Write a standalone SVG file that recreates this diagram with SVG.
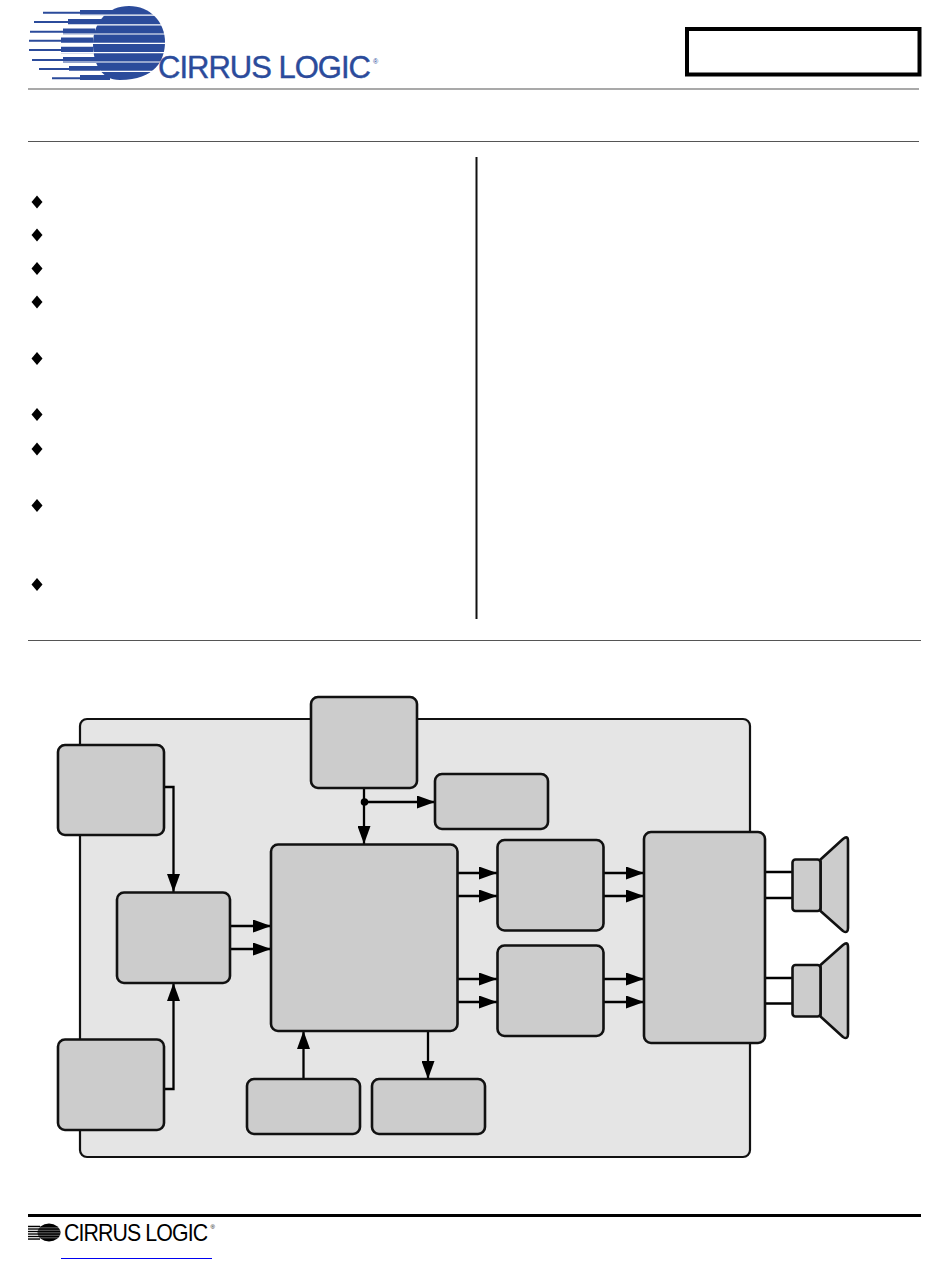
<svg xmlns="http://www.w3.org/2000/svg" width="950" height="1267" viewBox="0 0 950 1267">
<style>
.n{fill:#ccc;stroke:#111;stroke-width:2.6}
.c{fill:none;stroke:#000;stroke-width:2.3}
.a{marker-end:url(#arr)}
.r{stroke:#555;stroke-width:1.2;fill:none}
.gap{stroke:#fff;stroke-width:1.2}
.d{fill:#000}
.blue{fill:#2b4b9b}
.lg{font-family:"Liberation Sans",Arial,sans-serif;letter-spacing:-1px}
</style>
<defs>
<marker id="arr" markerUnits="userSpaceOnUse" markerWidth="18" markerHeight="13" refX="18" refY="6.500" orient="auto"><path d="M0,0L18,6.500L0,13z" fill="#000"/></marker>
</defs>
<rect width="950" height="1267" fill="#fff"/>
<g id="logo-top">
<path class="blue" d="M129,6C150,6 165,22 165,42C165,60 155,80 120,80C100,80 93,62 93,44C93,22 108,6 129,6z"/>
<path class="blue" d="M43,11.700H80V10H117V15.500H80V13.700H43z
M34,21H68V19H103V25H68V23H34z
M30,30.700H63V28.500H95V34.500H63V32.700H30z
M29,39.700H61V37.500H93V44H61V41.700H29z
M29,49H61V46.800H93V53.200H61V51H29z
M32,59H63V57H96V63H63V61H32z
M39,68H69V66H100V72H69V70H39z
M52,77.300H80V75H110V80H80V79.300H52z"/>
<path class="gap" d="M28,15.200H170M28,24.800H170M28,34H170M28,43.300H170M28,52.600H170M28,62H170M28,71.300H170"/>
<text class="lg blue" x="158" y="78" font-size="31" stroke="#2b4b9b" stroke-width="0.400">CIRRUS LOGIC</text>
<text class="lg blue" x="373" y="64" font-size="7">®</text>
</g>
<g id="title-box"><rect x="687" y="29" width="232.500" height="45.500" fill="#fff" stroke="#000" stroke-width="4"/></g>
<g id="rules">
<path class="r" d="M28,89H919M28,141.500H919M28,640.500H921"/>
<path d="M476.500,157V619" stroke="#111" stroke-width="2" fill="none"/>
<path d="M28,1215.500H921" stroke="#000" stroke-width="3" fill="none"/>
<path d="M61,1258.500H212" stroke="#0000f0" stroke-width="1.200" fill="none"/>
</g>
<g id="bullets" class="d">
<path d="M37,195.500L42.500,202L37,208.500L31.500,202z"/>
<path d="M37,228.500L42.500,235L37,241.500L31.500,235z"/>
<path d="M37,262L42.500,268.500L37,275L31.500,268.500z"/>
<path d="M37,295.500L42.500,302L37,308.500L31.500,302z"/>
<path d="M37,352L42.500,358.500L37,365L31.500,358.500z"/>
<path d="M37,408L42.500,414.500L37,421L31.500,414.500z"/>
<path d="M37,442.500L42.500,449L37,455.500L31.500,449z"/>
<path d="M37,499L42.500,505.500L37,512L31.500,505.500z"/>
<path d="M37,578L42.500,584.500L37,591L31.500,584.500z"/>
</g>
<g id="chip"><rect x="80" y="719" width="670" height="438" rx="7" fill="#e5e5e5" stroke="#111" stroke-width="2.200"/></g>
<g id="connectors">
<path class="c a" d="M364,788V844"/>
<path class="c a" d="M364,802H435"/>
<circle cx="364.500" cy="802" r="3.800" fill="#000"/>
<path class="c a" d="M164,787H173.500V892"/>
<path class="c a" d="M164,1089H173.500V983"/>
<path class="c a" d="M230,926H271"/>
<path class="c a" d="M230,949H271"/>
<path class="c a" d="M457,873H497"/>
<path class="c a" d="M457,896H497"/>
<path class="c a" d="M457,979H497"/>
<path class="c a" d="M457,1002H497"/>
<path class="c a" d="M603,873H644"/>
<path class="c a" d="M603,896H644"/>
<path class="c a" d="M603,979H644"/>
<path class="c a" d="M603,1002H644"/>
<path class="c a" d="M303.500,1079V1031"/>
<path class="c a" d="M428,1032V1079"/>
<path class="c" d="M765,872H792M765,898H792M765,978H792M765,1003.500H792"/>
</g>
<g id="node-top"><rect class="n" x="311" y="697" width="106" height="91" rx="7"/></g>
<g id="node-left-top"><rect class="n" x="58" y="745" width="106" height="90" rx="7"/></g>
<g id="node-left-bottom"><rect class="n" x="58" y="1039.500" width="106" height="90.500" rx="7"/></g>
<g id="node-small-top"><rect class="n" x="435" y="774" width="113" height="55" rx="7"/></g>
<g id="node-input"><rect class="n" x="117" y="892.500" width="113" height="90.500" rx="7"/></g>
<g id="node-center"><rect class="n" x="271" y="844.500" width="186.500" height="186.500" rx="7"/></g>
<g id="node-bottom-1"><rect class="n" x="247" y="1079" width="113" height="55" rx="7"/></g>
<g id="node-bottom-2"><rect class="n" x="372" y="1079" width="113" height="55" rx="7"/></g>
<g id="node-a"><rect class="n" x="497.500" y="840" width="106" height="90.500" rx="7"/></g>
<g id="node-b"><rect class="n" x="497.500" y="945.500" width="106" height="90.500" rx="7"/></g>
<g id="node-amp"><rect class="n" x="644" y="832" width="121" height="211" rx="7"/></g>
<g id="speaker-1">
<path class="n" stroke-linejoin="round" d="M820.500,859.500L843,839Q848,835 848,841V928Q848,934 843,931L820.500,911z"/>
<rect class="n" x="792.500" y="859.500" width="28" height="51.500" rx="3"/>
</g>
<g id="speaker-2">
<path class="n" stroke-linejoin="round" d="M820.500,965L843,945Q848,941 848,947V1034Q848,1040 843,1037L820.500,1016.500z"/>
<rect class="n" x="792.500" y="965" width="28" height="51.500" rx="3"/>
</g>
<g id="logo-bottom">
<ellipse cx="49" cy="1232.500" rx="11.500" ry="9"/>
<path d="M28,1226.500H40M28,1229H40M28,1231.500H40M28,1234H40M28,1236.500H40M28,1239H40" stroke="#000" stroke-width="1.400"/>
<path d="M28,1227.800H60M28,1230.300H60M28,1232.800H60M28,1235.300H60M28,1237.800H60" stroke="#fff" stroke-width="0.400"/>
<text class="lg" transform="translate(64 1241) scale(.888 1)" font-size="24" fill="#000">CIRRUS LOGIC</text>
<text class="lg" x="210.500" y="1229" font-size="6" fill="#000">®</text>
</g>
</svg>
